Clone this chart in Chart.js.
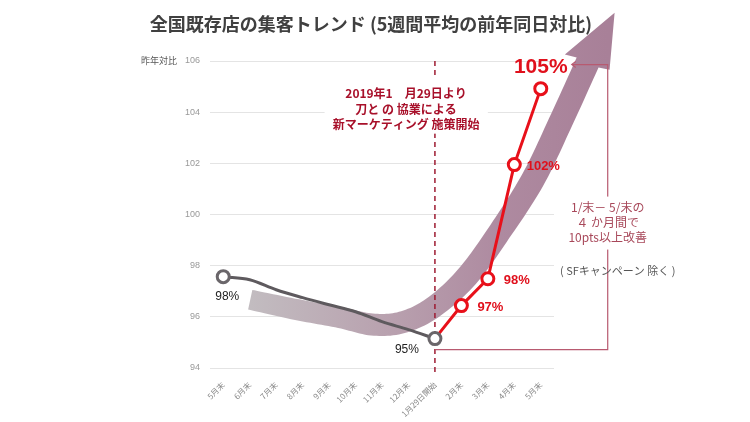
<!DOCTYPE html>
<html>
<head>
<meta charset="utf-8">
<script src="https://cdn.jsdelivr.net/npm/chart.js@4.4.1/dist/chart.umd.min.js"></script>
<style>
  html, body { margin: 0; padding: 0; background: #fff; }
</style>
</head>
<body>
<canvas id="myChart" width="750" height="422"></canvas>
<script>
// data
const categories = ['5月末', '6月末', '7月末', '8月末', '9月末', '10月末', '11月末', '12月末', '1月29日開始', '2月末', '3月末', '4月末', '5月末'];
const beforeValues = [97.57, 97.45, 97.06, 96.75, 96.47, 96.2, 95.81, 95.5, 95.15, null, null, null, null];
const afterValues = [null, null, null, null, null, null, null, null, 95.15, 96.44, 97.49, 101.95, 104.92];
const beforeLabels = ['98%', null, null, null, null, null, null, null, '95%', null, null, null, null];
const afterLabels = [null, null, null, null, null, null, null, null, null, '97%', '98%', '102%', '105%'];
const yTicks = [94, 96, 98, 100, 102, 104, 106];

// trend arrow centreline as [category index, value]
const arrowIdx = [1.02, 2.79, 4.42, 5.62, 6.75, 7.92, 9.21, 10.45, 11.70, 12.72, 13.77];
const arrowVal = [96.67, 96.28, 95.97, 95.7, 95.78, 96.36, 97.57, 99.33, 101.36, 103.55, 105.94];
const arrowHead = [[12.91, 106.25], [14.79, 107.89], [14.60, 105.66]];

const JP = '"Noto Sans CJK JP", "Noto Sans", sans-serif';
const LAT = '"Liberation Sans", Arial, sans-serif';

function pt(chart, i, v) {
    return [chart.scales.x.getPixelForValue(i), chart.scales.y.getPixelForValue(v)];
}

function spline(pts, steps) {
    var out = [];
    for (var i = 0; i < pts.length - 1; i++) {
        var p0 = pts[Math.max(i - 1, 0)], p1 = pts[i], p2 = pts[i + 1], p3 = pts[Math.min(i + 2, pts.length - 1)];
        for (var s = 0; s < steps; s++) {
            var t = s / steps, t2 = t * t, t3 = t2 * t;
            var f = function (a, b, c, d) {
                return 0.5 * (2 * b + (-a + c) * t + (2 * a - 5 * b + 4 * c - d) * t2 + (-a + 3 * b - 3 * c + d) * t3);
            };
            out.push([f(p0[0], p1[0], p2[0], p3[0]), f(p0[1], p1[1], p2[1], p3[1]), p1[2] + (p2[2] - p1[2]) * t]);
        }
    }
    out.push(pts[pts.length - 1]);
    return out;
}

const decor = {
    id: 'decor',
    beforeDatasetsDraw(chart) {
        const ctx = chart.ctx;
        const widths = [20, 21, 21, 22, 22, 22, 23, 23, 24, 24, 24];
        const pts = arrowIdx.map((i, k) => pt(chart, i, arrowVal[k]).concat([widths[k]]));
        const line = spline(pts, 12);
        const left = [], right = [];
        for (let k = 0; k < line.length; k++) {
            const a = line[Math.max(k - 1, 0)], b = line[Math.min(k + 1, line.length - 1)];
            let dx = b[0] - a[0], dy = b[1] - a[1];
            const len = Math.hypot(dx, dy) || 1;
            dx /= len; dy /= len;
            const nx = -dy, ny = dx, h = line[k][2] / 2;
            left.push([line[k][0] - nx * h, line[k][1] - ny * h]);
            right.push([line[k][0] + nx * h, line[k][1] + ny * h]);
        }
        const g = ctx.createLinearGradient(pts[0][0], 0, pts[pts.length - 1][0] + 20, 0);
        g.addColorStop(0, 'rgb(194,188,192)');
        g.addColorStop(0.4, 'rgb(184,160,174)');
        g.addColorStop(0.7, 'rgb(174,138,160)');
        g.addColorStop(1, 'rgb(168,128,152)');
        ctx.save();
        ctx.fillStyle = g;
        ctx.beginPath();
        left.forEach((p, k) => k ? ctx.lineTo(p[0], p[1]) : ctx.moveTo(p[0], p[1]));
        arrowHead.forEach(h => { const p = pt(chart, h[0], h[1]); ctx.lineTo(p[0], p[1]); });
        for (let k = right.length - 1; k >= 0; k--) ctx.lineTo(right[k][0], right[k][1]);
        ctx.closePath();
        ctx.fill();

        // start marker line
        const x8 = chart.scales.x.getPixelForValue(8);
        ctx.strokeStyle = '#9e1b32';
        ctx.lineWidth = 1.5;
        ctx.setLineDash([5, 4]);
        ctx.beginPath();
        ctx.moveTo(x8, chart.chartArea.top);
        ctx.lineTo(x8, chart.chartArea.bottom + 4);
        ctx.stroke();
        ctx.setLineDash([]);

        // bracket
        const b0 = pt(chart, 8, 94.72), b1 = pt(chart, 14.53, 94.72), b2 = pt(chart, 14.53, 105.86), b3 = pt(chart, 13.17, 105.86);
        ctx.strokeStyle = '#b85a70';
        ctx.lineWidth = 1.2;
        ctx.beginPath();
        ctx.moveTo(b0[0], b0[1]);
        ctx.lineTo(b1[0], b1[1]);
        ctx.lineTo(b2[0], b2[1]);
        ctx.lineTo(b3[0], b3[1]);
        ctx.moveTo(b3[0] + 4, b3[1] - 3);
        ctx.lineTo(b3[0], b3[1]);
        ctx.lineTo(b3[0] + 4, b3[1] + 3);
        ctx.stroke();
        ctx.restore();
    },
    afterDatasetsDraw(chart) {
        const ctx = chart.ctx;
        ctx.save();
        ctx.textAlign = 'center';
        ctx.textBaseline = 'middle';
        const m0 = chart.getDatasetMeta(0).data, m1 = chart.getDatasetMeta(1).data;
        ctx.fillStyle = '#222';
        ctx.font = '12px ' + LAT;
        beforeLabels.forEach((t, i) => {
            if (!t) return;
            const p = m0[i];
            if (i === 0) ctx.fillText(t, p.x + 4, p.y + 20);
            else ctx.fillText(t, p.x - 28, p.y + 11);
        });
        ctx.fillStyle = '#e0101c';
        afterLabels.forEach((t, i) => {
            if (!t) return;
            const p = m1[i];
            if (i === 12) {
                ctx.font = 'bold 21px ' + LAT;
                ctx.fillText(t, p.x, p.y - 21);
            } else {
                ctx.font = 'bold 13px ' + LAT;
                ctx.fillText(t, p.x + 29, p.y + 2);
            }
        });

        // title
        ctx.fillStyle = '#404040';
        ctx.font = 'bold 18px ' + JP;
        ctx.fillText('全国既存店の集客トレンド (5週間平均の前年同日対比)', 371, 24);

        // y axis caption
        ctx.textAlign = 'right';
        ctx.fillStyle = '#555';
        ctx.font = '9px ' + JP;
        ctx.fillText('昨年対比', chart.chartArea.left - 33, chart.scales.y.getPixelForValue(106));

        // note boxes
        ctx.textAlign = 'center';
        ctx.fillStyle = '#fff';
        let a = pt(chart, 3.83, 105.35), b = pt(chart, 10.0, 103.16);
        ctx.fillRect(a[0], a[1], b[0] - a[0], b[1] - a[1]);
        ctx.fillStyle = '#a8102a';
        ctx.font = 'bold 12px ' + JP;
        [['2019年1　月29日より', 104.72], ['刀と の 協業による', 104.10], ['新マーケティング 施策開始', 103.52]].forEach(r => {
            const p = pt(chart, 6.91, r[1]);
            ctx.fillText(r[0], p[0], p[1]);
        });

        ctx.fillStyle = '#fff';
        a = pt(chart, 13.02, 100.7); b = pt(chart, 16.11, 98.63);
        ctx.fillRect(a[0], a[1], b[0] - a[0], b[1] - a[1]);
        ctx.fillStyle = '#a8485a';
        ctx.font = '12px ' + JP;
        [['1/末－ 5/末の', 100.27], ['４ か月間で', 99.68], ['10pts以上改善', 99.09]].forEach(r => {
            const p = pt(chart, 14.53, r[1]);
            ctx.fillText(r[0], p[0], p[1]);
        });
        ctx.fillStyle = '#555';
        ctx.font = '11px ' + JP;
        const s = pt(chart, 14.91, 97.8);
        ctx.fillText('( SFキャンペーン 除く )', s[0], s[1]);
        ctx.restore();
    }
};

var ctx = document.getElementById('myChart');
var myChart = new Chart(ctx, {
    type: 'line',
    data: {
        labels: categories,
        datasets: [{
            label: 'before',
            data: beforeValues,
            borderColor: '#5e5a5e',
            borderWidth: 3,
            tension: 0.35,
            pointRadius: beforeValues.map((v, i) => (i === 0 || i === 8) ? 6 : 0),
            pointBorderWidth: 3,
            pointBackgroundColor: '#fff',
            pointBorderColor: '#6a666a',
            order: 0
        }, {
            label: 'after',
            data: afterValues,
            borderColor: '#e8101a',
            borderWidth: 3,
            tension: 0,
            pointRadius: afterValues.map((v, i) => i === 8 ? 0 : 6),
            pointBorderWidth: 3,
            pointBackgroundColor: '#fff',
            pointBorderColor: '#e8101a',
            order: 1
        }]
    },
    options: {
        responsive: false,
        animation: false,
        events: [],
        layout: { padding: { left: 160, right: 196, top: 61, bottom: 0 } },
        plugins: { legend: { display: false }, tooltip: { enabled: false } },
        scales: {
            x: {
                offset: true,
                grid: { display: false },
                border: { display: false },
                ticks: { color: '#888', font: { size: 8, family: JP }, minRotation: 45, maxRotation: 45, padding: 4 },
                afterFit: function (scale) { scale.height = 54; }
            },
            y: {
                min: 94,
                max: 106,
                afterBuildTicks: function (scale) { scale.ticks = yTicks.map(v => ({ value: v })); },
                grid: { color: '#e4e4e4', drawTicks: false },
                border: { display: false },
                ticks: { color: '#999', font: { size: 9, family: LAT }, padding: 10 },
                afterFit: function (scale) { scale.width = 50; }
            }
        }
    },
    plugins: [decor]
});
</script>
</body>
</html>
